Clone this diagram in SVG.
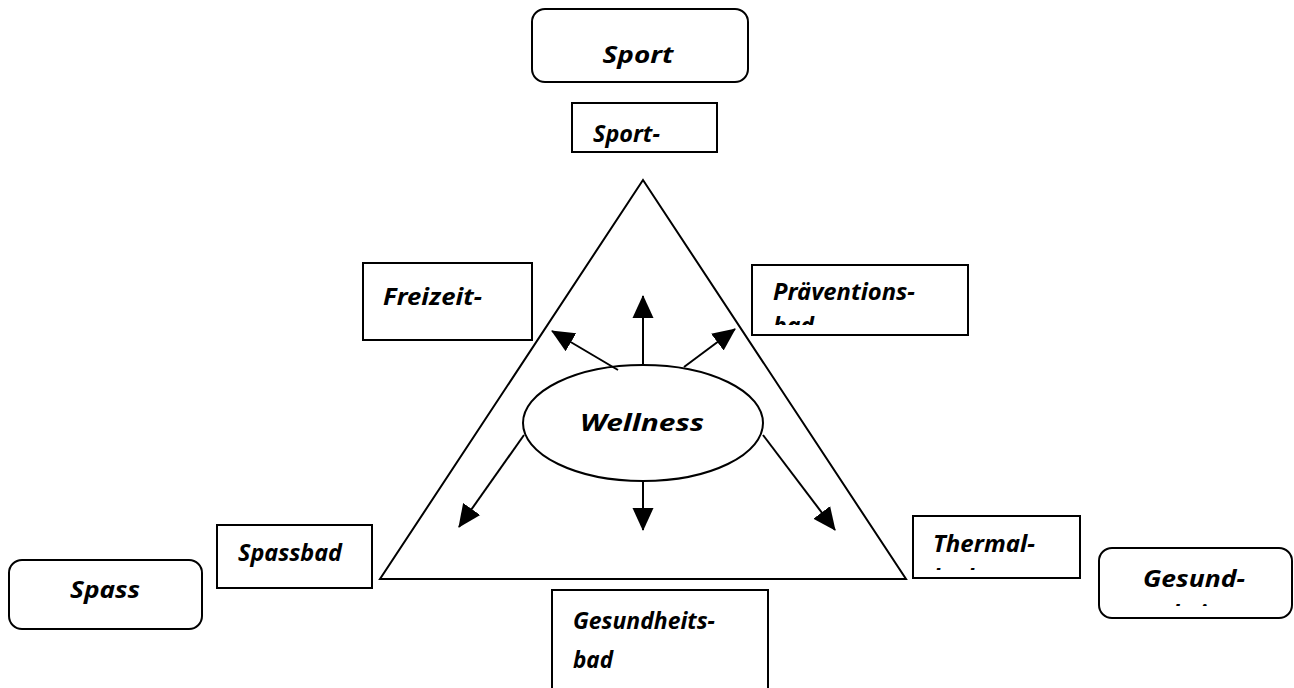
<svg xmlns="http://www.w3.org/2000/svg" width="1294" height="688" viewBox="0 0 1294 688">
<style>
.box{fill:#fff;stroke:#000;stroke-width:2}
.lbl{font-family:"Noto Sans","DejaVu Sans",sans-serif;font-style:italic;font-weight:700;font-size:23px;fill:#000}
.big{font-size:23px;text-anchor:middle}
.line{stroke:#000;stroke-width:2;fill:none}
</style>
<defs>
<marker id="ah" markerUnits="userSpaceOnUse" markerWidth="24" markerHeight="24" viewBox="0 0 24 24" refX="22" refY="12" orient="auto">
<path d="M0,1.5 L23,12 L0,22.5 Z" fill="#000"/>
</marker>
<clipPath id="cPrae"><rect x="752" y="265" width="216" height="60"/></clipPath>
<clipPath id="cTherm"><rect x="913" y="516" width="167" height="54"/></clipPath>
<clipPath id="cGes"><rect x="1099" y="548" width="193" height="58"/></clipPath>
</defs>
<rect width="1294" height="688" fill="#fff"/>

<g id="triangle">
<polygon points="643,180 380,579 906,579" fill="none" stroke="#000" stroke-width="2"/>
</g>

<g id="sport">
<rect class="box" x="532" y="9" width="216" height="73" rx="13"/>
<text class="lbl big" x="638" y="63" textLength="71" lengthAdjust="spacingAndGlyphs">Sport</text>
</g>
<g id="sportbad">
<rect class="box" x="572" y="103" width="145" height="49"/>
<text class="lbl" x="593" y="142" textLength="67" lengthAdjust="spacingAndGlyphs">Sport-</text>
</g>
<g id="freizeit">
<rect class="box" x="363" y="263" width="169" height="77"/>
<text class="lbl" x="383" y="305" textLength="99" lengthAdjust="spacingAndGlyphs">Freizeit-</text>
</g>
<g id="praevention">
<rect class="box" x="752" y="265" width="216" height="70"/>
<g clip-path="url(#cPrae)">
<text class="lbl" x="773" y="300" textLength="142" lengthAdjust="spacingAndGlyphs">Präventions-</text>
<text class="lbl" x="773" y="334">bad</text>
</g>
</g>
<g id="wellness">
<ellipse cx="643" cy="423" rx="120" ry="58" fill="#fff" stroke="#000" stroke-width="2"/>
<text class="lbl" x="642" y="431" font-size="27" text-anchor="middle" textLength="124" lengthAdjust="spacingAndGlyphs">Wellness</text>
</g>
<g id="spassbad">
<rect class="box" x="217" y="525" width="155" height="63"/>
<text class="lbl" x="238" y="561" font-weight="500" textLength="104" lengthAdjust="spacingAndGlyphs">Spassbad</text>
</g>
<g id="spass">
<rect class="box" x="9" y="560" width="193" height="69" rx="13"/>
<text class="lbl big" x="105" y="598" textLength="70" lengthAdjust="spacingAndGlyphs">Spass</text>
</g>
<g id="thermal">
<rect class="box" x="913" y="516" width="167" height="62"/>
<g clip-path="url(#cTherm)">
<text class="lbl" x="933" y="552" textLength="102" lengthAdjust="spacingAndGlyphs">Thermal-</text>
<text class="lbl" x="933" y="586">bad</text>
</g>
</g>
<g id="gesund">
<rect class="box" x="1099" y="548" width="193" height="70" rx="13"/>
<g clip-path="url(#cGes)">
<text class="lbl big" x="1194" y="587" textLength="102" lengthAdjust="spacingAndGlyphs">Gesund-</text>
<text class="lbl big" x="1194" y="622">heit</text>
</g>
</g>
<g id="gesundheitsbad">
<rect class="box" x="552" y="590" width="216" height="110"/>
<text class="lbl" x="573" y="629" textLength="142" lengthAdjust="spacingAndGlyphs">Gesundheits-</text>
<text class="lbl" x="573" y="668" textLength="40" lengthAdjust="spacingAndGlyphs">bad</text>
</g>

<g id="connectors">
<line class="line" x1="643" y1="365" x2="643" y2="296" marker-end="url(#ah)"/>
<line class="line" x1="618" y1="370" x2="552" y2="331" marker-end="url(#ah)"/>
<line class="line" x1="684" y1="367" x2="735" y2="329" marker-end="url(#ah)"/>
<line class="line" x1="524" y1="435" x2="459" y2="527" marker-end="url(#ah)"/>
<line class="line" x1="643" y1="481" x2="643" y2="530" marker-end="url(#ah)"/>
<line class="line" x1="763" y1="435" x2="835" y2="530" marker-end="url(#ah)"/>
</g>
</svg>
